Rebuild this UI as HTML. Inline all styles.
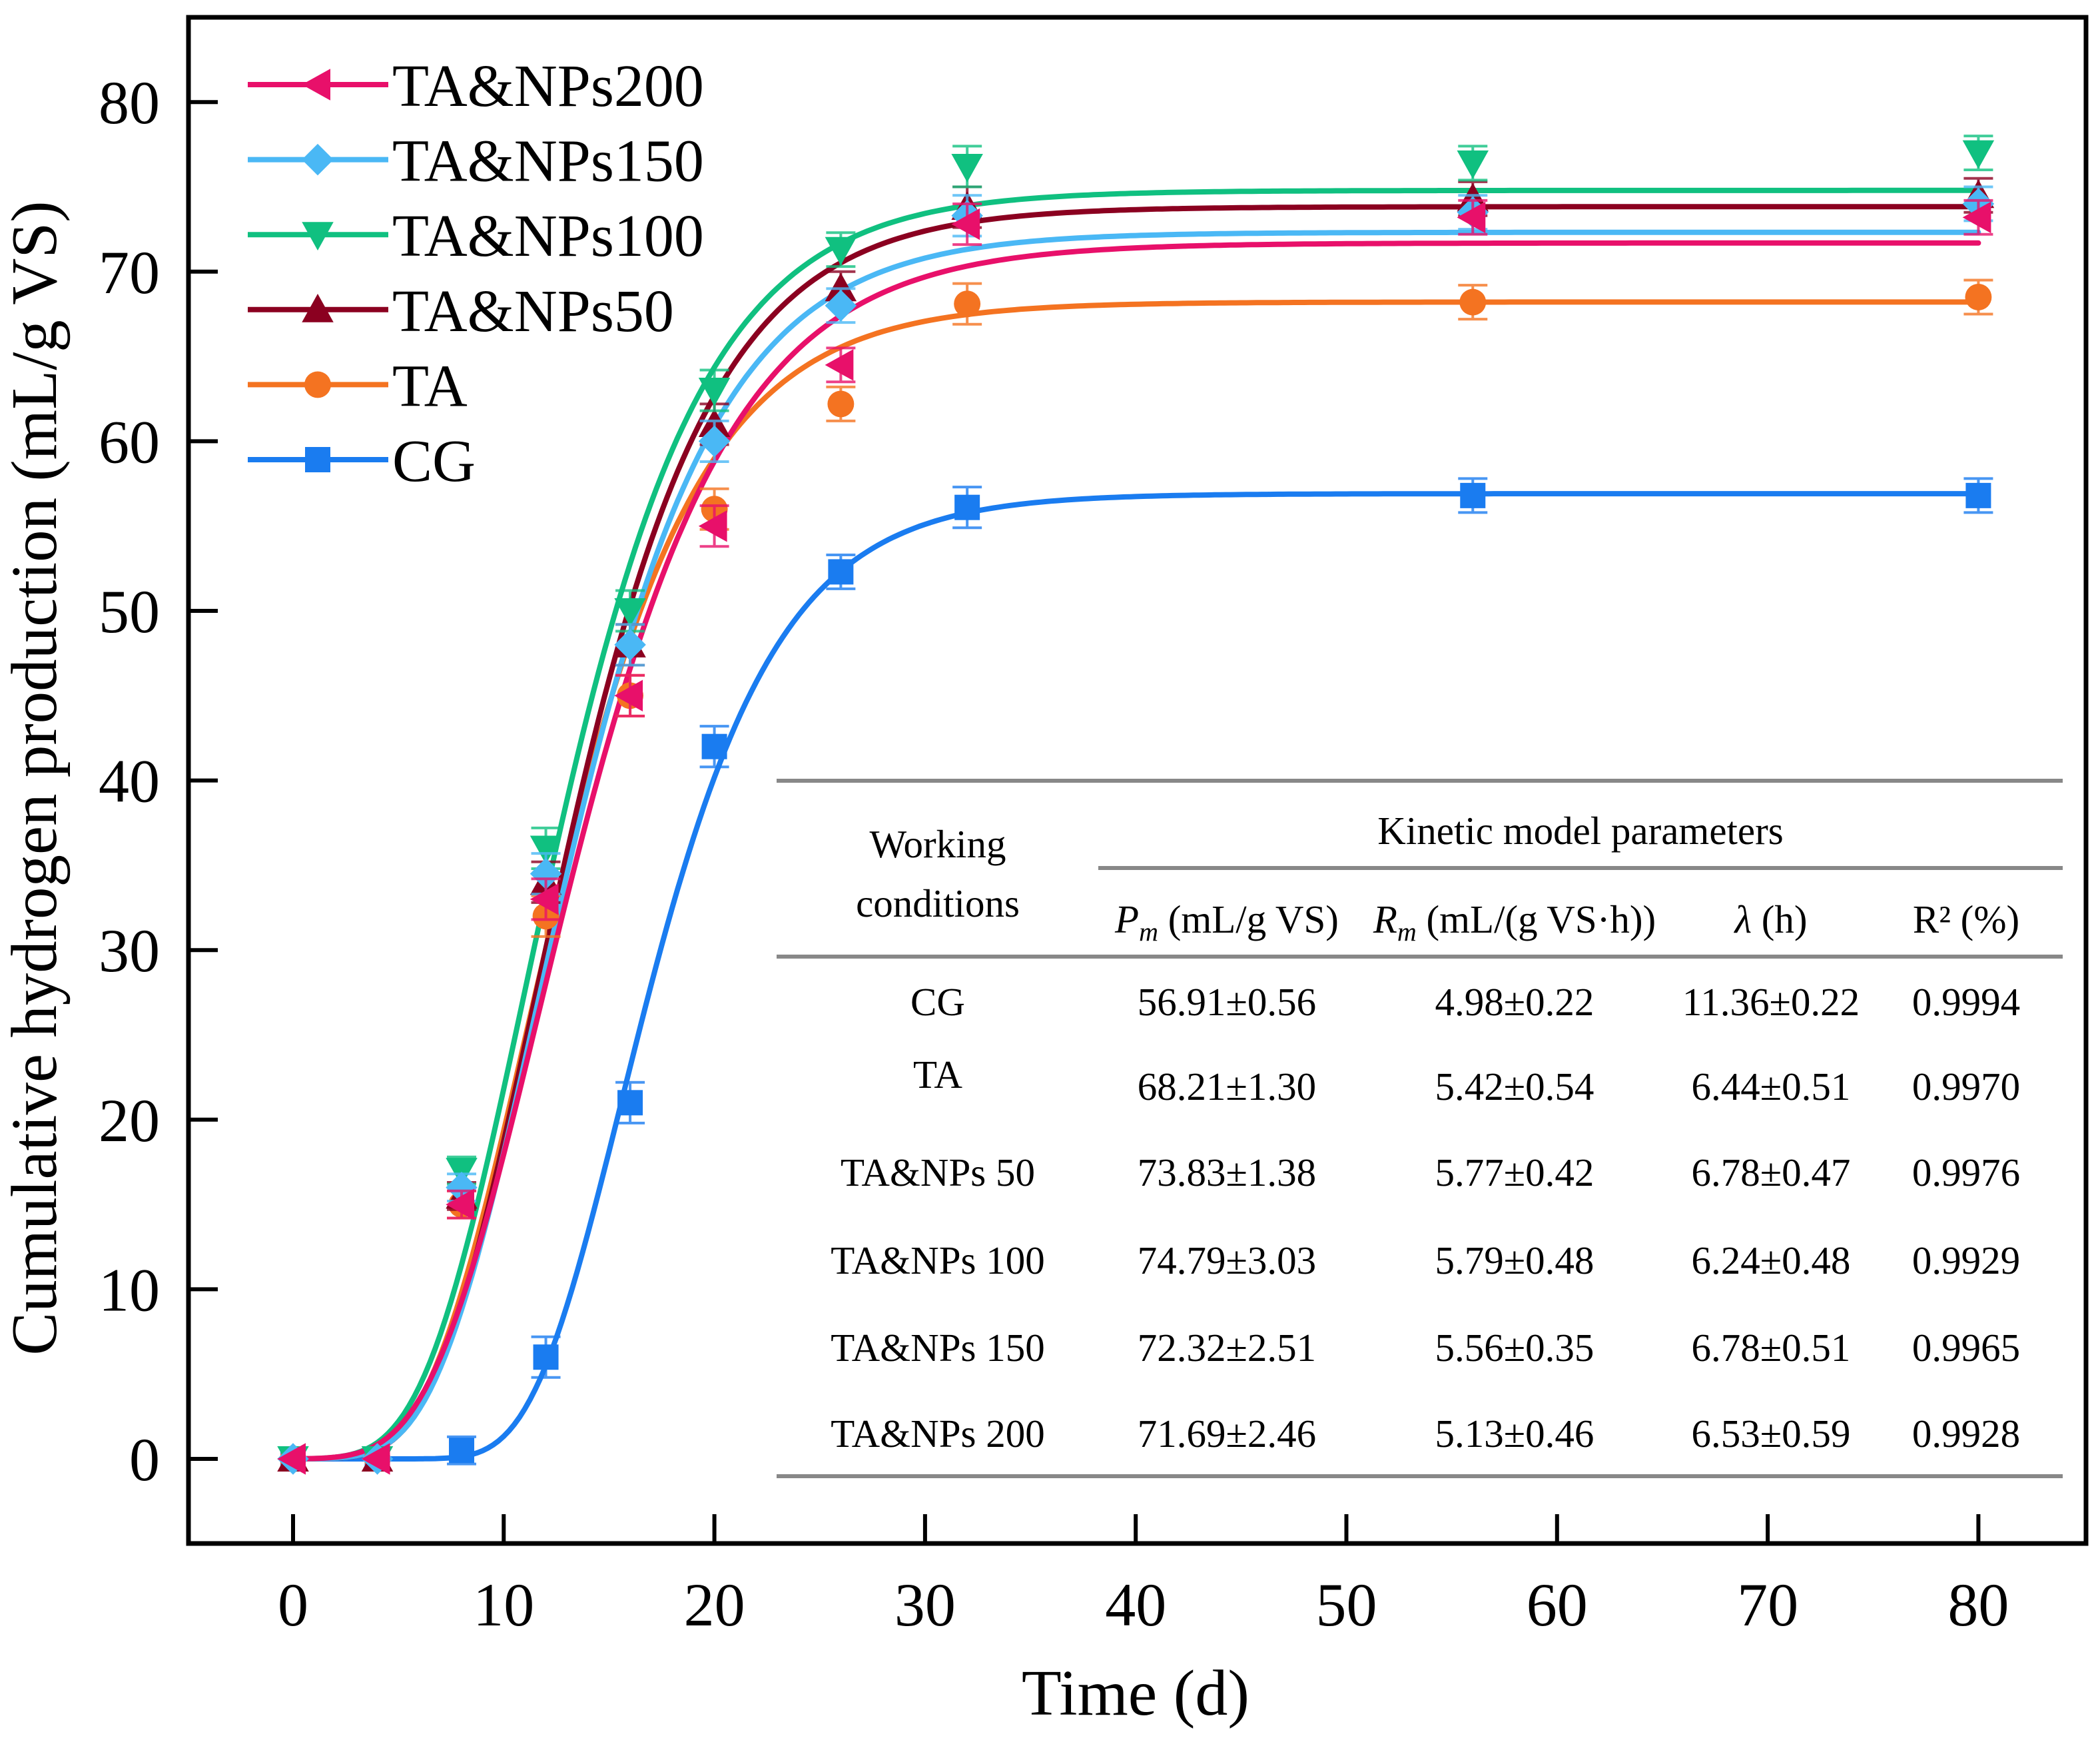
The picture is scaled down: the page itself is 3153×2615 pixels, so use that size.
<!DOCTYPE html>
<html><head><meta charset="utf-8"><style>
html,body{margin:0;padding:0;background:#fff}
svg{display:block;font-family:"Liberation Serif",serif}
</style></head><body>
<svg id="chart" width="3153" height="2615" viewBox="0 0 3153 2615" xmlns="http://www.w3.org/2000/svg">
<g id="marks"></g>
<g id="legend"></g>
<g id="table"></g>
<rect x="283" y="26" width="2849" height="2291" fill="none" stroke="#000" stroke-width="7"/>
<g id="axes"></g>
<text x="1705" y="2574" font-size="98" text-anchor="middle">Time (d)</text>
<text transform="translate(84,1168) rotate(-90)" font-size="97" text-anchor="middle">Cumulative hydrogen production (mL/g VS)</text>
</svg>
<script>
const times = [0, 4, 8, 12, 16, 20, 26, 32, 56, 80];
const seriesNames = ["CG", "TA", "TA&NPs50", "TA&NPs100", "TA&NPs150", "TA&NPs200"];
const valsCG   = [0, 0, 0.5, 6, 21, 42, 52.3, 56.1, 56.8, 56.8];
const valsTA   = [0, 0, 15, 32, 45, 56, 62.2, 68.1, 68.2, 68.5];
const vals50   = [0, 0, 15.5, 34, 48, 61, 69, 73.8, 74.3, 74.5];
const vals100  = [0, 0, 17, 36, 50, 63, 71.3, 76.2, 76.4, 77];
const vals150  = [0, 0, 16, 34.5, 48, 60, 68, 73.3, 73.5, 74];
const vals200  = [0, 0, 15, 33, 45, 55, 64.5, 72.8, 73.2, 73.2];
const errs = [0, 0, 0.8, 1.2, 1.2, 1.2, 1, 1.2, 1, 1];
const paramP = [56.91, 68.21, 73.83, 74.79, 72.32, 71.69];
const paramR = [4.98, 5.42, 5.77, 5.79, 5.56, 5.13];
const paramL = [11.36, 6.44, 6.78, 6.24, 6.78, 6.53];
const xTicks = [0, 10, 20, 30, 40, 50, 60, 70, 80];
const yTicks = [0, 10, 20, 30, 40, 50, 60, 70, 80];
const tableConds = ["CG", "TA", "TA&NPs 50", "TA&NPs 100", "TA&NPs 150", "TA&NPs 200"];
const tableP = ["56.91±0.56", "68.21±1.30", "73.83±1.38", "74.79±3.03", "72.32±2.51", "71.69±2.46"];
const tableR = ["4.98±0.22", "5.42±0.54", "5.77±0.42", "5.79±0.48", "5.56±0.35", "5.13±0.46"];
const tableL = ["11.36±0.22", "6.44±0.51", "6.78±0.47", "6.24±0.48", "6.78±0.51", "6.53±0.59"];
const tableR2 = ["0.9994", "0.9970", "0.9976", "0.9929", "0.9965", "0.9928"];

const NS = "http://www.w3.org/2000/svg";
const X = t => 440 + t * 31.63;
const Y = v => 2190 - v * 25.46;
const colors = ["#1a7cf0", "#f47321", "#8b0020", "#10c080", "#4ab8f5", "#e8106a"];
const shapes = ["square", "circle", "up", "down", "diamond", "left"];
const allVals = [valsCG, valsTA, vals50, vals100, vals150, vals200];
function mk(tag, attrs, parent) {
  const e = document.createElementNS(NS, tag);
  for (const k in attrs) e.setAttribute(k, attrs[k]);
  parent.appendChild(e);
  return e;
}
function marker(shape, cx, cy, s, color, parent) {
  let e;
  if (shape === "square") e = mk("rect", {x: cx - s, y: cy - s, width: 2 * s, height: 2 * s, fill: color}, parent);
  else if (shape === "circle") e = mk("circle", {cx: cx, cy: cy, r: s * 1.05, fill: color}, parent);
  else {
    let p;
    const k = s * 1.25;
    if (shape === "up") p = [[cx, cy - k], [cx + k, cy + k * 0.8], [cx - k, cy + k * 0.8]];
    if (shape === "down") p = [[cx, cy + k], [cx + k, cy - k * 0.8], [cx - k, cy - k * 0.8]];
    if (shape === "left") p = [[cx - k, cy], [cx + k * 0.8, cy - k], [cx + k * 0.8, cy + k]];
    if (shape === "diamond") p = [[cx, cy - k], [cx + k, cy], [cx, cy + k], [cx - k, cy]];
    e = mk("polygon", {points: p.map(q => q.join(",")).join(" "), fill: color}, parent);
  }
  return e;
}
const marks = document.getElementById("marks");
for (let i = 0; i < 6; i++) {
  let d = "";
  for (let t = 0; t <= 80.001; t += 0.25) {
    const h = paramP[i] * Math.exp(-Math.exp(paramR[i] * Math.E / paramP[i] * (paramL[i] - t) + 1));
    d += (t === 0 ? "M" : "L") + X(t).toFixed(1) + "," + Y(h).toFixed(1);
  }
  const c = mk("path", {d: d, fill: "none", stroke: colors[i], "stroke-width": 8, "stroke-linecap": "round"}, marks);
  
  
}
for (let i = 0; i < 6; i++) {
  const g = mk("g", {}, marks);
  
  
  allVals[i].forEach((v, j) => {
    const x = X(times[j]), y = Y(v), e = errs[j] * 25.46;
    if (e > 0) {
      mk("path", {d: `M${x},${y - e}V${y + e}M${x - 22},${y - e}h44M${x - 22},${y + e}h44`, stroke: colors[i], "stroke-width": 4, fill: "none", opacity: 0.8}, g);
    }
    const m = marker(shapes[i], x, y, 19, colors[i], g);
    
    
  });
}
const axes = document.getElementById("axes");
xTicks.forEach(t => {
  const l = mk("line", {x1: X(t), x2: X(t), y1: 2317, y2: 2273, stroke: "#000", "stroke-width": 6}, axes);
  
  
  const tx = mk("text", {x: X(t), y: 2440, "font-size": 92, "text-anchor": "middle"}, axes);
  tx.textContent = t;
  
  
});
yTicks.forEach(v => {
  const l = mk("line", {x1: 283, x2: 327, y1: Y(v), y2: Y(v), stroke: "#000", "stroke-width": 6}, axes);
  
  
  const tx = mk("text", {x: 240, y: Y(v) + 32, "font-size": 92, "text-anchor": "end"}, axes);
  tx.textContent = v;
  
  
});
const leg = document.getElementById("legend");
const legOrder = [5, 4, 3, 2, 1, 0];
legOrder.forEach((i, k) => {
  const y = 127 + k * 112.6;
  const g = mk("g", {}, leg);
  
  
  mk("line", {x1: 372, x2: 583, y1: y, y2: y, stroke: colors[i], "stroke-width": 8}, g);
  marker(shapes[i], 477, y, 19, colors[i], g);
  const tx = mk("text", {x: 589, y: y + 32, "font-size": 90}, g);
  tx.textContent = seriesNames[i];
});
const tb = document.getElementById("table");


mk("line", {x1: 1166, x2: 3097, y1: 1172, y2: 1172, stroke: "#888", "stroke-width": 6}, tb);
mk("line", {x1: 1649, x2: 3097, y1: 1303, y2: 1303, stroke: "#888", "stroke-width": 6}, tb);
mk("line", {x1: 1166, x2: 3097, y1: 1436, y2: 1436, stroke: "#888", "stroke-width": 6}, tb);
mk("line", {x1: 1166, x2: 3097, y1: 2216, y2: 2216, stroke: "#888", "stroke-width": 6}, tb);
function tt(x, y, s, html) {
  const t = mk("text", {x: x, y: y, "font-size": 59, "text-anchor": "middle"}, tb);
  t.innerHTML = html;
  return t;
}
tt(1408, 1287, 0, "Working");
tt(1408, 1376, 0, "conditions");
tt(2373, 1267, 0, "Kinetic model parameters");
tt(1842, 1400, 0, '<tspan font-style="italic">P</tspan><tspan font-style="italic" font-size="40" dy="12">m</tspan><tspan dy="-12"> (mL/g VS)</tspan>');
tt(2274, 1400, 0, '<tspan font-style="italic">R</tspan><tspan font-style="italic" font-size="40" dy="12">m</tspan><tspan dy="-12"> (mL/(g VS·h))</tspan>');
tt(2659, 1400, 0, '<tspan font-style="italic">λ</tspan> (h)');
tt(2952, 1400, 0, 'R² (%)');
const rowY = [1524, 1651, 1780, 1912, 2043, 2172];
tableConds.forEach((c, r) => {
  const y = rowY[r];
  tt(1408, r === 1 ? y - 18 : y, 0, c.replace('&', '&amp;'));
  tt(1842, y, 0, tableP[r]);
  tt(2274, y, 0, tableR[r]);
  tt(2659, y, 0, tableL[r]);
  tt(2952, y, 0, tableR2[r]);
});
</script>
</body></html>
